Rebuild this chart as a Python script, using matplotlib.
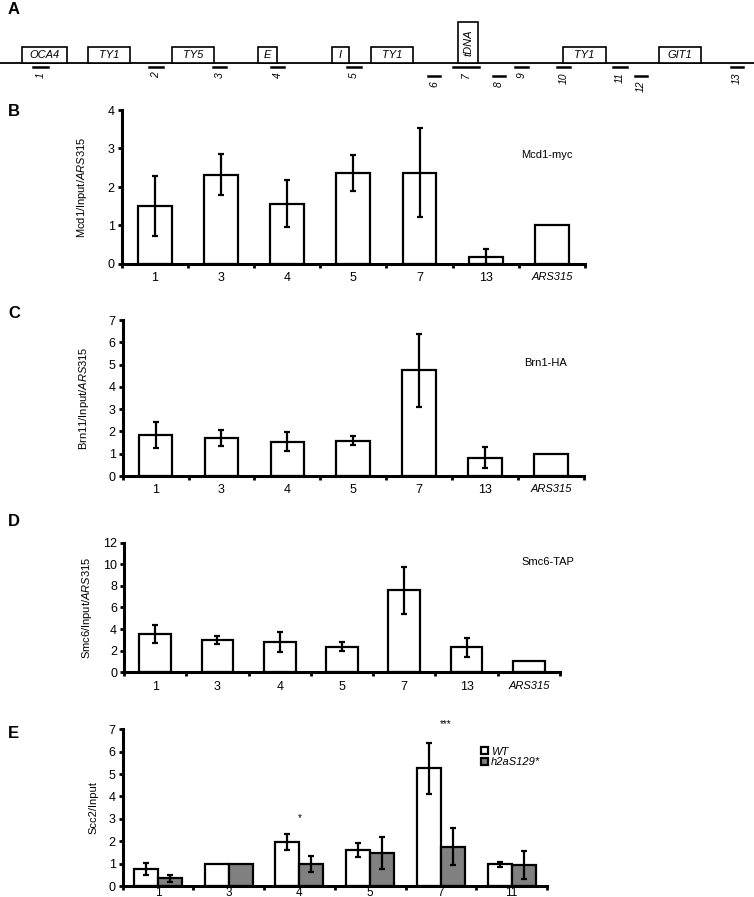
import matplotlib
matplotlib.use("Agg")
import matplotlib.pyplot as plt
import numpy as np

plt.rcParams['font.family'] = ['Liberation Sans Narrow', 'Liberation Sans', 'DejaVu Sans']
plt.rcParams['mathtext.fontset'] = 'custom'
plt.rcParams['mathtext.rm'] = 'Liberation Sans'
plt.rcParams['mathtext.it'] = 'Liberation Sans:italic'

# Panel A: map of the region (map units = pixels across the figure)
feat_names = ['OCA4', 'TY1', 'TY5', 'E', 'I', 'TY1', 'tDNA', 'TY1', 'GIT1']
feat_start = [22, 88, 172, 258, 332, 371, 458, 563, 659]
feat_end = [67, 130, 214, 277, 349, 413, 478, 606, 701]
feat_tall = [False, False, False, False, False, False, True, False, False]
probe_names = ['1', '2', '3', '4', '5', '6', '7', '8', '9', '10', '11', '12', '13']
probe_start = [33, 149, 213, 271, 347, 428, 453, 493, 515, 557, 613, 635, 731]
probe_end = [48, 163, 226, 284, 361, 440, 479, 505, 528, 570, 627, 647, 743]
probe_low = [False, False, False, False, False, True, False, True, False, False, False, True, False]

# Panel B-D sites
sites = ['1', '3', '4', '5', '7', '13', 'ARS315']
mcd1 = [1.50, 2.32, 1.57, 2.36, 2.37, 0.19, 1.0]
mcd1_err = [0.78, 0.54, 0.62, 0.47, 1.16, 0.20, 0]
brn1 = [1.84, 1.71, 1.54, 1.58, 4.75, 0.83, 1.0]
brn1_err = [0.60, 0.37, 0.43, 0.21, 1.64, 0.48, 0]
smc6 = [3.55, 3.00, 2.83, 2.37, 7.60, 2.30, 1.0]
smc6_err = [0.85, 0.34, 0.92, 0.39, 2.16, 0.88, 0]

# Panel E
sites_e = ['1', '3', '4', '5', '7', '11']
wt = [0.76, 1.0, 1.97, 1.60, 5.25, 0.98]
wt_err = [0.25, 0, 0.36, 0.30, 1.13, 0.11]
h2a = [0.34, 1.0, 0.97, 1.47, 1.76, 0.94]
h2a_err = [0.15, 0, 0.35, 0.70, 0.83, 0.61]

W, H = 754, 897
fig = plt.figure(figsize=(W / 100, H / 100), dpi=100)


def style_axes(ax, ymax, ystep, n, narrow=True, xpad=6):
    for s in ['top', 'right']:
        ax.spines[s].set_visible(False)
    for s in ['left', 'bottom']:
        ax.spines[s].set_linewidth(2.2)
    ax.set_xlim(-0.5, n - 0.5)
    ax.set_ylim(0, ymax)
    ax.set_yticks(np.arange(0, ymax + 0.01, ystep))
    ax.set_xticks(np.arange(n))
    ax.set_xticks(np.arange(n + 1) - 0.5, minor=True)
    ax.tick_params(axis='x', which='major', length=0, pad=xpad, labelsize=9)
    ax.tick_params(axis='x', which='minor', length=3, width=2, direction='out')
    ax.tick_params(axis='y', length=3, width=2, direction='out', pad=2, labelsize=9)
    fam = ['Liberation Sans Narrow', 'Liberation Sans'] if narrow else ['Liberation Sans']
    for t in ax.get_xticklabels() + ax.get_yticklabels():
        t.set_family(fam)


def bar_panel(ax, vals, errs, ymax, ystep, ylabel, tag, tag_xy, narrow=True, lab_x=-0.07):
    x = np.arange(len(vals))
    ax.bar(x, vals, 0.51, color='white', edgecolor='black', linewidth=1.6, zorder=2)
    m = np.array(errs) > 0
    ax.errorbar(x[m], np.array(vals)[m], yerr=np.array(errs)[m], fmt='none', ecolor='black',
                elinewidth=1.6, capsize=2.2, capthick=1.6, zorder=3)
    style_axes(ax, ymax, ystep, len(vals), narrow)
    ax.set_xticklabels(sites)
    last = ax.get_xticklabels()[-1]
    last.set_style('italic')
    last.set_fontsize(8)
    ax.set_ylabel(ylabel, fontsize=8)
    ax.yaxis.set_label_coords(lab_x, 0.5)
    ax.text(tag_xy[0], tag_xy[1], tag, fontsize=8, ha='center', va='center', clip_on=False)


# ---- Panel A ----
axa = fig.add_axes([0, 1 - 100 / H, 1, 100 / H])
axa.set_xlim(0, W)
axa.set_ylim(100, 0)
axa.axis('off')
base = 63
axa.plot([0, W], [base, base], color='black', lw=1.3)
for name, s, e, tall in zip(feat_names, feat_start, feat_end, feat_tall):
    top = 22 if tall else 47
    axa.add_patch(plt.Rectangle((s, top), e - s, base - top, facecolor='white',
                                edgecolor='black', lw=1.2, zorder=2))
    if tall:
        axa.text((s + e) / 2, (top + base) / 2, name, rotation=90, style='italic',
                 fontsize=8, ha='center', va='center', zorder=3)
    else:
        axa.text((s + e) / 2, (top + base) / 2 + 0.5, name, style='italic',
                 fontsize=8, ha='center', va='center', zorder=3)
for name, s, e, low in zip(probe_names, probe_start, probe_end, probe_low):
    yb = 76 if low else 67.5
    axa.plot([s, e], [yb, yb], color='black', lw=1.8)
    axa.text((s + e) / 2, yb + 5, name, rotation=90, style='italic', fontsize=7.5,
             ha='center', va='top')

# ---- Panels B-D ----
axb = fig.add_axes([121.7 / W, 1 - 264 / H, 463.3 / W, 154 / H])
bar_panel(axb, mcd1, mcd1_err, 4, 1, r'Mcd1/Input/$\mathit{ARS315}$', 'Mcd1-myc', (5.92, 2.83),
          narrow=False, lab_x=-0.071)

axc = fig.add_axes([122.6 / W, 1 - 476 / H, 461.4 / W, 156 / H])
bar_panel(axc, brn1, brn1_err, 7, 1, r'Brn11/Input/$\mathit{ARS315}$', 'Brn1-HA', (5.92, 5.07),
          lab_x=-0.068)

axd = fig.add_axes([124 / W, 1 - 672.3 / H, 436 / W, 129.6 / H])
bar_panel(axd, smc6, smc6_err, 12, 2, r'Smc6/Input/$\mathit{ARS315}$', 'Smc6-TAP', (6.3, 10.24),
          lab_x=-0.069)

# ---- Panel E ----
axe = fig.add_axes([122.6 / W, 1 - 886 / H, 424.4 / W, 156.7 / H])
xe = np.arange(len(sites_e))
bw = 0.34
axe.bar(xe - bw / 2, wt, bw, color='white', edgecolor='black', linewidth=1.6, zorder=2, label='WT')
axe.bar(xe + bw / 2, h2a, bw, color='#808080', edgecolor='black', linewidth=1.6, zorder=2,
        label='h2aS129*')
for off, v, e in [(-bw / 2, wt, wt_err), (bw / 2, h2a, h2a_err)]:
    m = np.array(e) > 0
    axe.errorbar((xe + off)[m], np.array(v)[m], yerr=np.array(e)[m], fmt='none', ecolor='black',
                 elinewidth=1.6, capsize=2.2, capthick=1.6, zorder=3)
style_axes(axe, 7, 1, len(sites_e), xpad=0.5)
axe.set_xticklabels(sites_e)
for t in axe.get_xticklabels():
    t.set_fontsize(8.5)
axe.set_ylabel('Scc2/Input', fontsize=8)
axe.yaxis.set_label_coords(-0.056, 0.5)
axe.text(2, 3.05, '*', fontsize=7, ha='center', va='center')
axe.text(4.06, 7.25, '***', fontsize=7, ha='center', va='center', clip_on=False)
leg = axe.legend(loc='upper left', bbox_to_anchor=(0.845, 0.89), frameon=False,
                 handlelength=0.6, handleheight=0.6, handletextpad=0.3, labelspacing=0.05,
                 borderpad=0, borderaxespad=0, prop={'style': 'italic', 'size': 8})

# panel letters
for letter, yp in [('A', 10), ('B', 112), ('C', 313), ('D', 521), ('E', 733)]:
    fig.text(8 / W, 1 - yp / H, letter, fontsize=12, fontweight='bold', ha='left', va='center',
             family=['Liberation Sans'])

fig.savefig('out.png', dpi=100)
